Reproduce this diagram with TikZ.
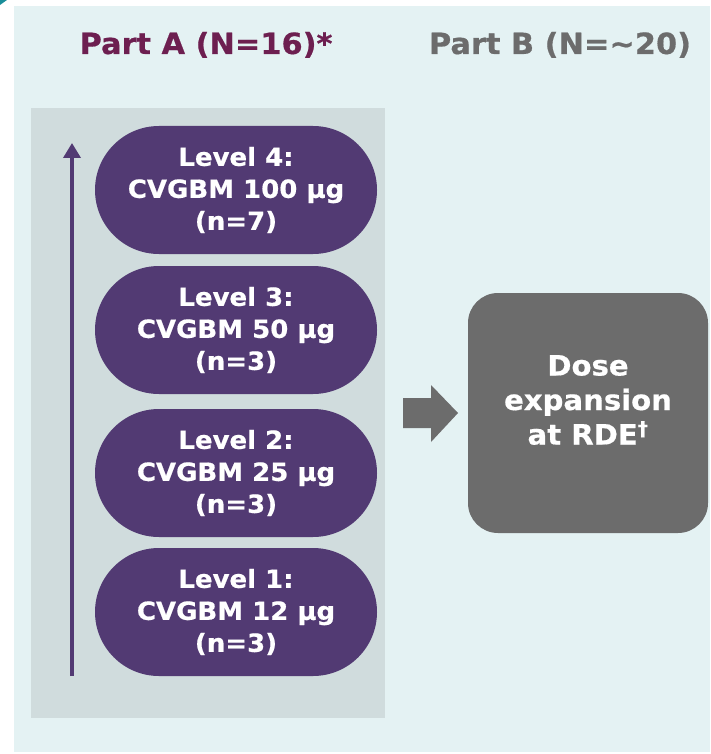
\documentclass[tikz,border=0pt]{standalone}
\usepackage{fontspec}
\setmainfont{DejaVu Sans}[FakeStretch=1.04, BoldFeatures={FakeBold=0.6}]
\usetikzlibrary{arrows.meta,shapes.misc}
\definecolor{panelbg}{HTML}{E4F2F3}
\definecolor{graybg}{HTML}{D0DCDD}
\definecolor{pillc}{HTML}{523A73}
\definecolor{titlea}{HTML}{6D1F50}
\definecolor{darkg}{HTML}{6C6C6C}
\definecolor{tealc}{HTML}{1A8E9A}
\tikzset{
  pill/.style={rounded rectangle, fill=pillc, text=white, minimum width=282pt, minimum height=128pt, inner sep=0pt, align=center, font=\bfseries\fontsize{25}{32}\selectfont},
  title/.style={font=\bfseries\fontsize{29.2}{34}\selectfont, anchor=base},
  expbox/.style={rectangle, rounded corners=30pt, fill=darkg, minimum width=240pt, minimum height=240pt, inner sep=0pt},
  exptext/.style={text=white, align=center, inner sep=0pt, font=\bfseries\fontsize{28}{34.5}\selectfont},
  pilltext/.style={text=white, align=center, inner sep=0pt, font=\bfseries\fontsize{25}{32}\selectfont},
  uparrow/.style={draw=pillc, line width=3.6pt, -{Triangle[length=15pt,width=17pt]}},
}
\begin{document}
\begin{tikzpicture}[x=1pt,y=-1pt]
\useasboundingbox (0,0) rectangle (710,754);
\fill[tealc] (0,0) -- (7,0) -- (0,5) -- cycle;
\fill[panelbg] (14,6) rectangle (710,752);
\fill[graybg] (31,108) rectangle (385,718);
\node[title, text=titlea] (ta) at (206,54) {Part A (N=16)*};
\node[title, text=darkg] (tb) at (560,54) {Part B (N=∼20)};
\node[pill] (l4) at (236,190) {Level 4:\\CVGBM 100 μg\\(n=7)};
\node[pill] (l3) at (236,330) {Level 3:\\CVGBM 50 μg\\(n=3)};
\node[pill] (l2) at (236,473) {Level 2:\\CVGBM 25 μg\\(n=3)};
\node[pill] (l1) at (236,612) {Level 1:\\CVGBM 12 μg\\(n=3)};
\coordinate (as) at (72,676);
\coordinate (ae) at (72,143);
\draw[uparrow] (as) -- (ae);
\node[expbox] (exp) at (588,413) {};
\node[exptext, yshift=13pt] (expt) at (exp.center) {Dose\\expansion\\at RDE\textsuperscript{†}};
\fill[darkg] (403,398) -- (431,398) -- (431,385) -- (458,413) -- (431,442) -- (431,428) -- (403,428) -- cycle;
\end{tikzpicture}
\end{document}
